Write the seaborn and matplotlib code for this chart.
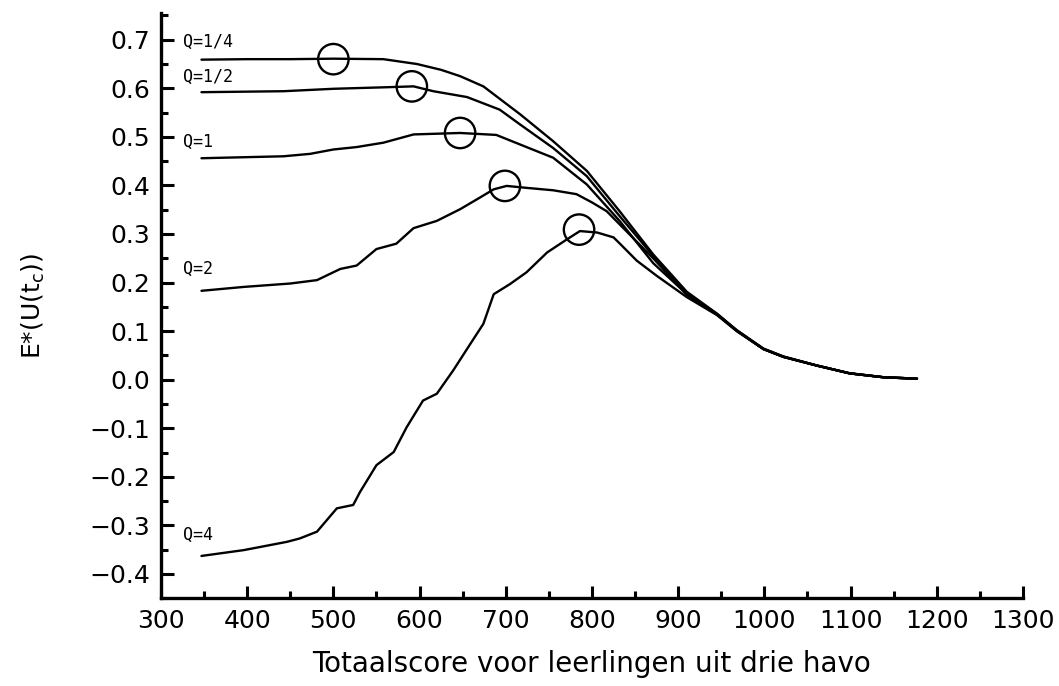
import matplotlib
matplotlib.use("Agg")
import matplotlib.pyplot as plt
import seaborn as sns
import pandas as pd
from matplotlib.ticker import MultipleLocator

sns.set_style("ticks", {"axes.edgecolor": "black", "xtick.color": "black",
                        "ytick.color": "black", "text.color": "black",
                        "axes.labelcolor": "black"})
plt.rcParams['font.family'] = ['DejaVu Sans']

# score vs E*(U(tc)) for each Q
x_q14 = [347, 400, 450, 500, 558, 597, 625, 647, 674, 717, 755, 794, 832, 871, 910, 945, 968, 999, 1022, 1061, 1099, 1138, 1177]
y_q14 = [0.659, 0.660, 0.660, 0.661, 0.660, 0.650, 0.638, 0.625, 0.604, 0.546, 0.491, 0.430, 0.347, 0.258, 0.181, 0.136, 0.102, 0.064, 0.048, 0.029, 0.013, 0.005, 0.002]

x_q12 = [347, 442, 500, 558, 593, 616, 655, 693, 717, 755, 794, 832, 871, 910, 945, 968, 999, 1022, 1061, 1099, 1138, 1177]
y_q12 = [0.592, 0.594, 0.599, 0.602, 0.604, 0.594, 0.582, 0.556, 0.525, 0.477, 0.419, 0.337, 0.255, 0.178, 0.135, 0.101, 0.063, 0.047, 0.029, 0.013, 0.005, 0.002]

x_q1 = [347, 442, 473, 500, 527, 558, 593, 647, 689, 717, 755, 794, 832, 871, 910, 945, 968, 999, 1022, 1061, 1099, 1138, 1177]
y_q1 = [0.456, 0.460, 0.465, 0.474, 0.479, 0.488, 0.505, 0.508, 0.504, 0.484, 0.457, 0.402, 0.327, 0.240, 0.176, 0.135, 0.101, 0.063, 0.047, 0.029, 0.013, 0.005, 0.002]

x_q2 = [347, 396, 450, 481, 508, 527, 550, 573, 593, 620, 647, 670, 686, 701, 724, 755, 782, 800, 817, 832, 871, 910, 945, 968, 999, 1022, 1061, 1099, 1138, 1177]
y_q2 = [0.183, 0.191, 0.198, 0.205, 0.228, 0.235, 0.269, 0.280, 0.312, 0.327, 0.351, 0.375, 0.392, 0.399, 0.395, 0.390, 0.382, 0.365, 0.347, 0.320, 0.250, 0.175, 0.134, 0.100, 0.063, 0.047, 0.029, 0.013, 0.005, 0.002]

x_q4 = [347, 396, 446, 461, 481, 504, 523, 531, 550, 570, 585, 604, 620, 639, 659, 674, 686, 705, 724, 748, 771, 786, 806, 825, 833, 852, 875, 910, 945, 968, 999, 1022, 1061, 1099, 1138, 1177]
y_q4 = [-0.363, -0.351, -0.334, -0.327, -0.313, -0.265, -0.258, -0.231, -0.176, -0.149, -0.098, -0.043, -0.029, 0.019, 0.074, 0.115, 0.176, 0.197, 0.221, 0.262, 0.289, 0.306, 0.303, 0.293, 0.279, 0.245, 0.214, 0.170, 0.133, 0.100, 0.063, 0.047, 0.029, 0.013, 0.005, 0.002]

labels = ["Q=1/4", "Q=1/2", "Q=1", "Q=2", "Q=4"]
label_y = [0.695, 0.623, 0.49, 0.228, -0.32]
max_x = [500, 591, 647, 699, 785]
max_y = [0.660, 0.604, 0.508, 0.399, 0.309]

series = [(x_q14, y_q14), (x_q12, y_q12), (x_q1, y_q1), (x_q2, y_q2), (x_q4, y_q4)]
frames = []
for lab, (xs, ys) in zip(labels, series):
    frames.append(pd.DataFrame({"score": xs, "eu": ys, "Q": lab}))
df = pd.concat(frames, ignore_index=True)

fig = plt.figure(figsize=(10.59, 6.86), dpi=100)
ax = fig.add_axes([0.152, 0.128, 0.814, 0.853])

sns.lineplot(data=df, x="score", y="eu", units="Q", estimator=None,
             color="black", linewidth=1.7, ax=ax, sort=False)

# circles at the maxima
sns.scatterplot(x=max_x, y=max_y, ax=ax, s=480, facecolor="none",
                edgecolor="black", linewidth=1.7, zorder=5)

for lab, ly in zip(labels, label_y):
    ax.text(325, ly, lab, fontsize=12, family="DejaVu Sans Mono",
            va="center", ha="left")

ax.set_xlim(300, 1300)
ax.set_ylim(-0.45, 0.755)
ax.xaxis.set_major_locator(MultipleLocator(100))
ax.xaxis.set_minor_locator(MultipleLocator(50))
ax.yaxis.set_minor_locator(MultipleLocator(0.05))
ax.set_yticks([-0.4, -0.3, -0.2, -0.1, 0.0, 0.1, 0.2, 0.3, 0.4, 0.5, 0.6, 0.7])
ax.set_yticklabels(["\u22120.4", "\u22120.3", "\u22120.2", "\u22120.1", "0.0", "0.1",
                    "0.2", "0.3", "0.4", "0.5", "0.6", "0.7"])

ax.tick_params(which="major", direction="in", length=9, width=2.2, labelsize=18, pad=8)
ax.tick_params(which="minor", direction="in", length=5, width=2.2)
for s in ["left", "bottom"]:
    ax.spines[s].set_linewidth(2.4)
sns.despine(ax=ax)

ax.set_xlabel("Totaalscore voor leerlingen uit drie havo", fontsize=20, labelpad=12)
ax.set_ylabel(r"E*(U(t$_\mathrm{c}$))", fontsize=18, labelpad=30)

fig.savefig("out.png", dpi=100)
